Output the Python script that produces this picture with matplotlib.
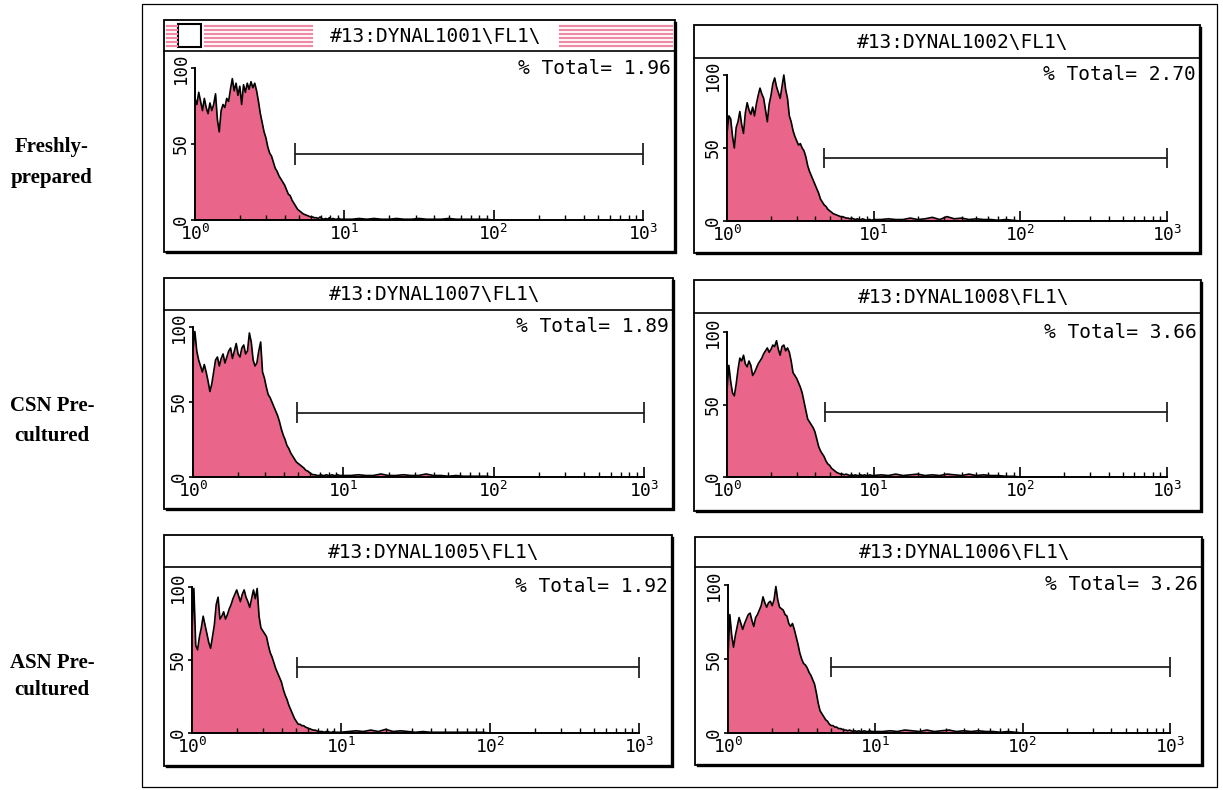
import numpy as np
import matplotlib
matplotlib.use('Agg')
import matplotlib.pyplot as plt
from matplotlib.patches import Rectangle
from matplotlib.lines import Line2D
from matplotlib.ticker import NullFormatter

W, H = 1223, 790

plt.rcParams["mathtext.fontset"] = "custom"
plt.rcParams["mathtext.rm"] = "DejaVu Sans Mono"
plt.rcParams["mathtext.it"] = "DejaVu Sans Mono"
plt.rcParams["mathtext.bf"] = "DejaVu Sans Mono"

# ---------------- data ----------------
row_labels = [["Freshly-", "prepared"], ["CSN Pre-", "cultured"], ["ASN Pre-", "cultured"]]
titles = ["#13:DYNAL1001\\FL1\\", "#13:DYNAL1002\\FL1\\",
          "#13:DYNAL1007\\FL1\\", "#13:DYNAL1008\\FL1\\",
          "#13:DYNAL1005\\FL1\\", "#13:DYNAL1006\\FL1\\"]
pct_total = ["1.96", "2.70", "1.89", "3.66", "1.92", "3.26"]
x_ticks = [1, 10, 100, 1000]
x_tick_labels = [r"10$^{\mathrm{0}}$", r"10$^{\mathrm{1}}$", r"10$^{\mathrm{2}}$", r"10$^{\mathrm{3}}$"]
y_ticks = [0, 50, 100]
y_tick_labels = ["0", "50", "100"]

log_step = 0.0125   # channel spacing in decades (main region 10^0 .. 10^1)
tail_step = 0.05    # channel spacing in decades (tail 10^1 .. 10^2)

counts_1001 = [80, 76, 84, 78, 72, 80, 74, 70, 77, 72, 76, 83, 66, 58, 72, 76, 74, 80, 78, 86,
               93, 85, 90, 82, 88, 76, 89, 84, 90, 86, 91, 87, 90, 85, 78, 70, 64, 58, 54, 48,
               44, 42, 38, 34, 32, 29, 27, 25, 23, 20, 17, 16, 13, 11, 9, 7, 6, 5, 4, 3.5,
               3, 2.5, 2, 2, 1.5, 1.5, 1, 2, 1, 0.5, 1, 0.5, 1.5, 0.5, 1, 0.5, 0.5, 1, 0.5, 0.5, 0.5]
tail_1001 = [0.5, 1, 0.5, 1, 0.5, 0.5, 1, 0.5, 0.5, 1, 0.5, 0.5, 0.5, 1, 0.5, 0.5, 0.5, 0.5, 0.5, 0]

counts_1002 = [60, 72, 70, 58, 50, 64, 68, 75, 66, 60, 74, 81, 76, 73, 78, 72, 80, 86, 91, 87,
               84, 76, 68, 80, 86, 94, 98, 92, 88, 84, 92, 100, 90, 84, 72, 68, 62, 58, 55, 52,
               53, 50, 48, 44, 38, 34, 31, 28, 25, 22, 19, 15, 13, 11, 10, 8, 7, 6, 5, 4.5,
               4, 3.5, 3, 3, 2.5, 2, 2, 1.5, 2, 1.5, 1, 1.5, 1, 1, 1.5, 1, 0.5, 1, 1, 0.5, 1]
tail_1002 = [1, 1.5, 1, 1, 2, 1, 1.5, 2.5, 1, 3, 1.5, 2, 1, 1.5, 1, 1, 0.5, 1, 0.5, 0]

counts_1007 = [85, 97, 84, 78, 74, 70, 75, 70, 64, 57, 62, 70, 78, 80, 74, 79, 82, 76, 80, 84,
               86, 79, 84, 89, 82, 80, 86, 88, 82, 84, 96, 90, 78, 74, 76, 84, 90, 70, 66, 60,
               55, 53, 50, 47, 44, 41, 37, 32, 28, 25, 21, 19, 16, 14, 12, 10, 9, 8, 7, 6,
               4.5, 4, 3, 2, 1.5, 1.5, 1, 1, 1.5, 1, 1, 1.5, 1, 1, 1.5, 1, 1, 1.5, 1, 1, 1]
tail_1007 = [1, 1.5, 1, 1, 2, 1, 1, 1.5, 1, 1, 2, 1, 1, 0.5, 1, 0.5, 0.5, 0.5, 0.5, 0]

counts_1008 = [60, 77, 66, 58, 56, 64, 74, 82, 80, 84, 78, 76, 80, 77, 70, 72, 75, 78, 80, 82,
               85, 87, 89, 86, 88, 91, 90, 94, 88, 84, 90, 91, 87, 89, 86, 80, 72, 70, 68, 65,
               62, 58, 52, 46, 40, 38, 36, 34, 31, 26, 21, 18, 16, 14, 11, 9, 8, 6, 5, 4,
               3, 2.5, 2, 2, 1.5, 2, 1.5, 1, 1.5, 1, 1.5, 1, 1, 1.5, 1, 1.5, 1, 1, 1.5, 1, 1]
tail_1008 = [1.5, 1, 2, 1, 1.5, 2, 1, 1.5, 1, 2, 1.5, 1, 2, 1, 1.5, 1, 1, 0.5, 0.5, 0]

counts_1005 = [70, 99, 60, 57, 66, 72, 80, 74, 68, 62, 58, 66, 74, 88, 93, 78, 80, 83, 78, 81,
               85, 88, 92, 95, 98, 94, 90, 95, 98, 93, 90, 86, 92, 98, 92, 99, 80, 72, 70, 68,
               66, 60, 55, 52, 48, 44, 41, 38, 35, 30, 26, 23, 19, 16, 13, 10, 8, 6, 6, 5,
               5, 4, 3.5, 3, 2.5, 2, 2, 1.5, 1, 1, 1, 0.5, 1, 1, 0.5, 0.5, 1, 0.5, 0.5, 0.5, 0.5]
tail_1005 = [1, 1.5, 1, 2, 1, 2.5, 1, 1.5, 1, 0.5, 1, 0.5, 0.5, 0.5, 0.5, 0.5, 0.5, 0.5, 0.5, 0]

counts_1006 = [52, 80, 66, 58, 66, 72, 78, 74, 70, 74, 77, 80, 81, 76, 72, 78, 80, 83, 86, 92,
               88, 85, 88, 89, 86, 90, 99, 90, 85, 84, 83, 80, 79, 74, 72, 74, 70, 65, 60, 54,
               50, 47, 46, 44, 41, 39, 36, 33, 27, 20, 15, 13, 11, 9, 8, 6, 5, 5, 4, 4,
               3, 3, 2.5, 2, 2, 1.5, 2, 1.5, 1, 1.5, 1, 1.5, 1, 1, 1.5, 1, 1, 1.5, 1, 1, 1]
tail_1006 = [1, 1.5, 1, 2, 1.5, 1, 2, 1, 1.5, 2, 1, 1.5, 1, 1.5, 1, 1, 0.5, 1, 0.5, 0]

counts = [counts_1001, counts_1002, counts_1007, counts_1008, counts_1005, counts_1006]
tails = [tail_1001, tail_1002, tail_1007, tail_1008, tail_1005, tail_1006]

gate_left = [4.67, 4.6, 4.9, 4.66, 5.07, 5.0]
gate_right = [1000, 1000, 1000, 1000, 1000, 1000]
gate_level = [43.4, 43, 43, 45, 45, 44.6]

# ---------------- layout (pixels) ----------------
# box_l, box_t, box_r, box_b, title_bottom, x(10^0), x(10^3), y(100), y(0)
geom = [
    (164, 20, 675, 252, 51, 195, 643, 68, 220),
    (694, 25, 1200, 253, 58, 727, 1167, 75, 221),
    (164, 278, 673, 509, 310, 193, 644, 327, 477),
    (694, 280, 1201, 511, 313, 727, 1167, 332, 477),
    (164, 535, 672, 766, 567, 192, 639, 587, 733),
    (695, 537, 1202, 765, 567, 728, 1170, 585, 733),
]
row_label_y = [(147, 178), (406, 436), (663, 690)]

PINK = "#e9668a"
STRIPE = "#ee8aa6"
MONO = ["DejaVu Sans Mono", "DejaVu Sans"]

fig = plt.figure(figsize=(W / 100, H / 100), dpi=100)
fig.patch.set_facecolor("white")


def fx(px):
    return px / W


def fy(py):
    return 1 - py / H


def frect(x0, y0, x1, y1, **kw):
    r = Rectangle((fx(x0), fy(y1)), fx(x1) - fx(x0), fy(y0) - fy(y1),
                  transform=fig.transFigure, **kw)
    fig.add_artist(r)


def fline(xs, ys, **kw):
    fig.add_artist(Line2D([fx(x) for x in xs], [fy(y) for y in ys],
                          transform=fig.transFigure, **kw))


# outer frame
frect(142, 4, 1217, 787, fill=False, edgecolor="black", linewidth=0.9)

# row labels
for (l1, l2), (ya, yb) in zip(row_labels, row_label_y):
    fig.text(fx(52), fy(ya), l1, ha="center", va="center", fontsize=15,
             fontweight="bold", family="Liberation Serif")
    fig.text(fx(52), fy(yb), l2, ha="center", va="center", fontsize=15,
             fontweight="bold", family="Liberation Serif")

main_logs = np.arange(len(counts_1001)) * log_step
tail_logs = main_logs[-1] + np.arange(1, len(tail_1001) + 1) * tail_step

for k, (bl, bt, br, bb, tb, x0, x3, y100, y0) in enumerate(geom):
    # panel frame
    frect(bl, bt, br, bb, fill=False, edgecolor="black", linewidth=1.3)
    fline([bl + 3, br, br], [bb, bb, bt + 3], color="black", linewidth=2.4,
          solid_joinstyle="miter")
    fline([bl, br], [tb, tb], color="black", linewidth=1.2)

    # title
    fig.text(fx((bl + br) / 2 + 16), fy((bt + tb) / 2 + 1), titles[k], ha="center",
             va="center", fontsize=14, family=MONO)

    # data axes
    ax = fig.add_axes([fx(x0), fy(y0), fx(br - 2) - fx(x0), fy(tb + 2) - fy(y0)])
    ax.set_facecolor("none")
    ax.set_xscale("log")
    ax.set_xlim(1, 10 ** (3 * (br - 2 - x0) / (x3 - x0)))
    ax.set_ylim(0, 100 * (y0 - tb - 2) / (y0 - y100))

    logs = np.concatenate([main_logs, tail_logs])
    vals = np.array(counts[k] + tails[k], dtype=float)
    xv = 10 ** logs
    ax.fill_between(xv, 0, vals, color=PINK, linewidth=0, zorder=1)
    ax.plot(xv, vals, color="black", linewidth=1.2, zorder=2)

    # gate marker
    ax.plot([gate_left[k], gate_right[k]], [gate_level[k], gate_level[k]],
            color="#222222", linewidth=1.3, zorder=3)
    ax.vlines([gate_left[k], gate_right[k]], gate_level[k] - 7, gate_level[k] + 7,
              color="#222222", linewidth=1.3, zorder=3)

    # spines / ticks
    for s in ("top", "right"):
        ax.spines[s].set_visible(False)
    ax.spines["left"].set_bounds(0, 100)
    ax.spines["bottom"].set_bounds(1, 1000)
    ax.spines["left"].set_linewidth(1.4)
    ax.spines["bottom"].set_linewidth(1.4)
    ax.set_xticks(x_ticks)
    ax.set_xticklabels(x_tick_labels, family=MONO, fontsize=13)
    ax.xaxis.set_minor_formatter(NullFormatter())
    ax.tick_params(axis="x", which="major", direction="in", length=7, width=1.2, pad=3)
    ax.tick_params(axis="x", which="minor", direction="in", length=3.5, width=1.0)
    ax.set_yticks(y_ticks)
    ax.set_yticklabels(y_tick_labels, family=MONO, fontsize=12.5, rotation=90,
                       va="center")
    ax.tick_params(axis="y", which="major", direction="out", length=3, width=1.2, pad=1)

    # % Total
    fig.text(fx(br - 4), fy(y100), "% Total= " + pct_total[k], ha="right",
             va="center", fontsize=14, family=MONO)

# striped decoration in first title bar
bl, bt, br, bb, tb = geom[0][:5]
for yy in np.linspace(bt + 6, tb - 5, 6):
    fline([bl + 3, bl + 13], [yy, yy], color=STRIPE, linewidth=1.6)
    fline([bl + 41, 312], [yy, yy], color=STRIPE, linewidth=1.6)
    fline([560, br - 3], [yy, yy], color=STRIPE, linewidth=1.6)
frect(bl + 14, bt + 4, bl + 37, tb - 4, fill=True, facecolor="white",
      edgecolor="black", linewidth=1.5)

fig.savefig("out.png", dpi=100, facecolor="white")
